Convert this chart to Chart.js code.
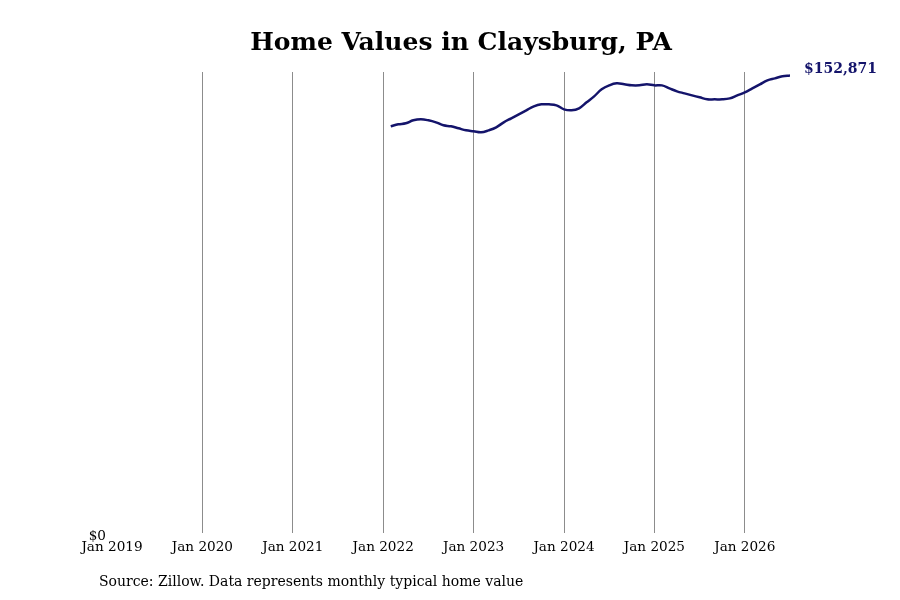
<!DOCTYPE html>
<html>
<head>
<meta charset="utf-8">
<script src="https://cdn.jsdelivr.net/npm/chart.js@4.4.0/dist/chart.umd.min.js"></script>
<style>
body { margin: 0; background: #fff; }
#wrap { width: 900px; height: 600px; position: relative; }
</style>
</head>
<body>
<div id="wrap"><canvas id="homeChart" width="900" height="600"></canvas></div>
<script>
// months counted from Jan 2019 (0) -- series starts Feb 2022
const startMonth = 37;
const homeValues = [
  135860, 136520, 136860, 137860, 138190, 137860, 137190, 136190, 135860, 135190, 134520,
  134190, 133850, 134520, 135520, 137190, 138530, 139860, 141200, 142530, 143200, 143200, 142870,
  141530, 141200, 141870, 143870, 145870, 148210, 149540, 150210, 149880, 149540, 149540, 149880,
  149540, 149540, 148540, 147540, 146870, 146200, 145540, 144870, 144870, 144870, 145200, 146200,
  147210, 148540, 149880, 151210, 151880, 152550, 152871
];
const yearLabels = ['Jan 2019', 'Jan 2020', 'Jan 2021', 'Jan 2022', 'Jan 2023', 'Jan 2024', 'Jan 2025', 'Jan 2026'];
const titleText = 'Home Values in Claysburg, PA';
const sourceText = 'Source: Zillow. Data represents monthly typical home value';

const points = homeValues.map((v, i) => ({ x: startMonth + i, y: v }));
const lastValue = homeValues[homeValues.length - 1];

const extras = {
  id: 'extras',
  afterDraw(chart) {
    const c = chart.ctx;
    c.save();
    c.fillStyle = '#000';
    c.font = 'bold 25px "DejaVu Serif"';
    c.textAlign = 'center';
    c.textBaseline = 'middle';
    c.fillText(titleText, 461, 43);

    c.font = '14px "DejaVu Serif"';
    c.textAlign = 'left';
    c.fillText(sourceText, 99, 582);

    // end label
    const meta = chart.getDatasetMeta(0);
    const last = meta.data[meta.data.length - 1];
    c.fillStyle = '#14146b';
    c.font = 'bold 14px "DejaVu Serif"';
    c.fillText('$' + lastValue.toLocaleString('en-US'), last.x + 14, last.y - 6);
    c.restore();
  }
};

new Chart(document.getElementById('homeChart'), {
  type: 'line',
  data: {
    datasets: [{
      data: points,
      borderColor: '#14146b',
      borderWidth: 2.5,
      pointRadius: 0,
      tension: 0.4,
      fill: false
    }]
  },
  options: {
    responsive: false,
    animation: false,
    layout: { padding: { top: 72, right: 110, left: 0, bottom: 0 } },
    plugins: { legend: { display: false }, tooltip: { enabled: false } },
    scales: {
      x: {
        type: 'linear',
        min: 0,
        max: 90,
        afterBuildTicks: (scale) => {
          scale.ticks = yearLabels.map((_, i) => ({ value: i * 12 }));
        },
        afterFit: (scale) => { scale.height = 67; },
        ticks: {
          autoSkip: false,
          maxRotation: 0,
          padding: 6,
          color: '#000',
          font: { family: 'DejaVu Serif', size: 13.6 },
          callback: (v) => yearLabels[v / 12]
        },
        grid: {
          tickLength: 0,
          color: (ctx) => ctx.tick && ctx.tick.value === 0 ? 'rgba(0,0,0,0)' : '#8c8c8c',
          lineWidth: 1
        },
        border: { display: false }
      },
      y: {
        min: 0,
        max: 154000,
        afterBuildTicks: (scale) => { scale.ticks = [{ value: 0 }]; },
        afterFit: (scale) => { scale.width = 112; },
        ticks: {
          padding: 6,
          labelOffset: 3,
          color: '#000',
          font: { family: 'DejaVu Serif', size: 13.6 },
          callback: (v) => '$' + v
        },
        grid: { display: false, tickLength: 0 },
        border: { display: false }
      }
    }
  },
  plugins: [extras]
});
</script>
</body>
</html>
